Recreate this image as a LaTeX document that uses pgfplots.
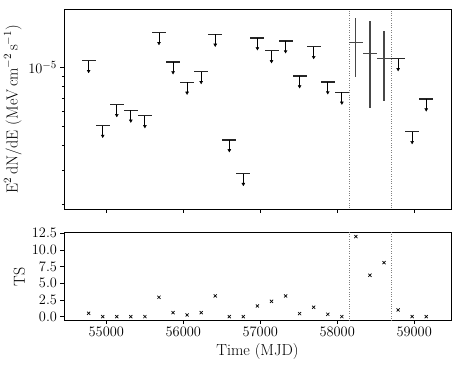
\documentclass[border=0pt]{standalone}
\usepackage{pgfplots}
\pgfplotsset{compat=1.18}
\usepackage{pgfplotstable}

% upper limits: bin centre (MJD), flux UL
\pgfplotstableread{
t      f
54770  1.086e-5
54953  5.06e-6
55136  6.46e-6
55318  6.05e-6
55501  5.67e-6
55684  1.51e-5
55867  1.07e-5
56049  8.41e-6
56232  9.54e-6
56415  1.48e-5
56598  4.27e-6
56780  2.87e-6
56963  1.42e-5
57146  1.22e-5
57329  1.37e-5
57511  9.07e-6
57694  1.28e-5
57877  8.45e-6
58060  7.48e-6
58791  1.11e-5
58973  4.70e-6
59156  6.91e-6
}\ulims

% detections: centre, flux, +err, -err
\pgfplotstableread{
t      f        ep       em
58242  1.35e-5  4.4e-6   4.57e-6
58425  1.18e-5  5.5e-6   5.57e-6
58608  1.11e-5  4.3e-6   4.37e-6
}\detect

% test statistic per bin
\pgfplotstableread{
t      ts
54770  0.5
54953  0.0
55136  0.0
55318  0.0
55501  0.0
55684  2.9
55867  0.6
56049  0.25
56232  0.6
56415  3.1
56598  0.0
56780  0.0
56963  1.6
57146  2.3
57329  3.1
57511  0.45
57694  1.4
57877  0.35
58060  0.0
58242  12.0
58425  6.2
58608  8.1
58791  1.0
58973  0.0
59156  0.0
}\tsdata

\pgfplotsset{
  lcstyle/.style={
    scale only axis, width=387pt,
    xmin=54450, xmax=59478,
    xtick={55000,56000,57000,58000,59000},
    scaled x ticks=false,
    xticklabel style={/pgf/number format/1000 sep={}},
    tick align=outside, xtick pos=left, ytick pos=left,
    major tick length=3.5pt, minor tick length=2pt,
    tick style={black, line width=0.6pt},
    axis line style={line width=0.6pt},
    tick label style={font=\fontsize{15.5}{18}\selectfont},
    label style={font=\fontsize{16}{19}\selectfont},
  },
}

\begin{document}
\begin{tikzpicture}
\begin{axis}[lcstyle, name=top, height=200pt,
  ymode=log, ymin=1.885e-6, ymax=1.99e-5,
  ytick={1e-5}, minor ytick={2e-6,3e-6,4e-6,5e-6,6e-6,7e-6,8e-6,9e-6},
  xticklabels={},
  ylabel={E$^2$\,dN/dE (MeV\,cm$^{-2}$\,s$^{-1}$)},
]
\coordinate (tl) at (rel axis cs:0,1);
\addplot[gray, dotted, forget plot] coordinates {(58151,1e-6) (58151,3e-5)};
\addplot[gray, dotted, forget plot] coordinates {(58699,1e-6) (58699,3e-5)};
% horizontal bars of the upper limits
\addplot[draw=none, mark=none, error bars/.cd, x dir=both, x fixed=91,
  error mark=none, error bar style={draw=black!85, line width=1.2pt}] table[x=t,y=f] {\ulims};
% arrow shafts
\addplot[draw=none, mark=none, error bars/.cd, y dir=minus, y explicit,
  error mark=none, error bar style={draw=black, line width=0.85pt}]
  table[x=t,y=f,y error minus expr=0.115*\thisrow{f}] {\ulims};
% arrow heads
\addplot[only marks, mark=triangle*, mark size=1.7pt, black,
  mark options={rotate=180, fill=black}]
  table[x=t,y expr=0.885*\thisrow{f}] {\ulims};
% detections
\addplot[draw=none, mark=none, error bars/.cd, x dir=both, x fixed=91,
  y dir=both, y explicit, error mark=none,
  error bar style={draw=black!72, line width=1.2pt}]
  table[x=t,y=f,y error plus=ep,y error minus=em] {\detect};
\end{axis}

\begin{axis}[lcstyle, at={(top.south west)}, anchor=north west, yshift=-23.3pt,
  height=88pt, ymin=-0.6, ymax=12.6,
  ytick={0,2.5,5,7.5,10,12.5},
  yticklabel style={/pgf/number format/.cd, fixed, fixed zerofill, precision=1},
  xlabel={Time (MJD)}, ylabel={TS},
]
\addplot[gray, dotted, forget plot] coordinates {(58151,-1) (58151,14)};
\addplot[gray, dotted, forget plot] coordinates {(58699,-1) (58699,14)};
\addplot[only marks, mark=x, mark size=2.2pt, black, line width=0.7pt] table[x=t,y=ts] {\tsdata};
\end{axis}
\pgfresetboundingbox
\useasboundingbox (tl) ++(-64pt,9.3pt) rectangle ++(460pt,-368pt);
\end{tikzpicture}
\end{document}
